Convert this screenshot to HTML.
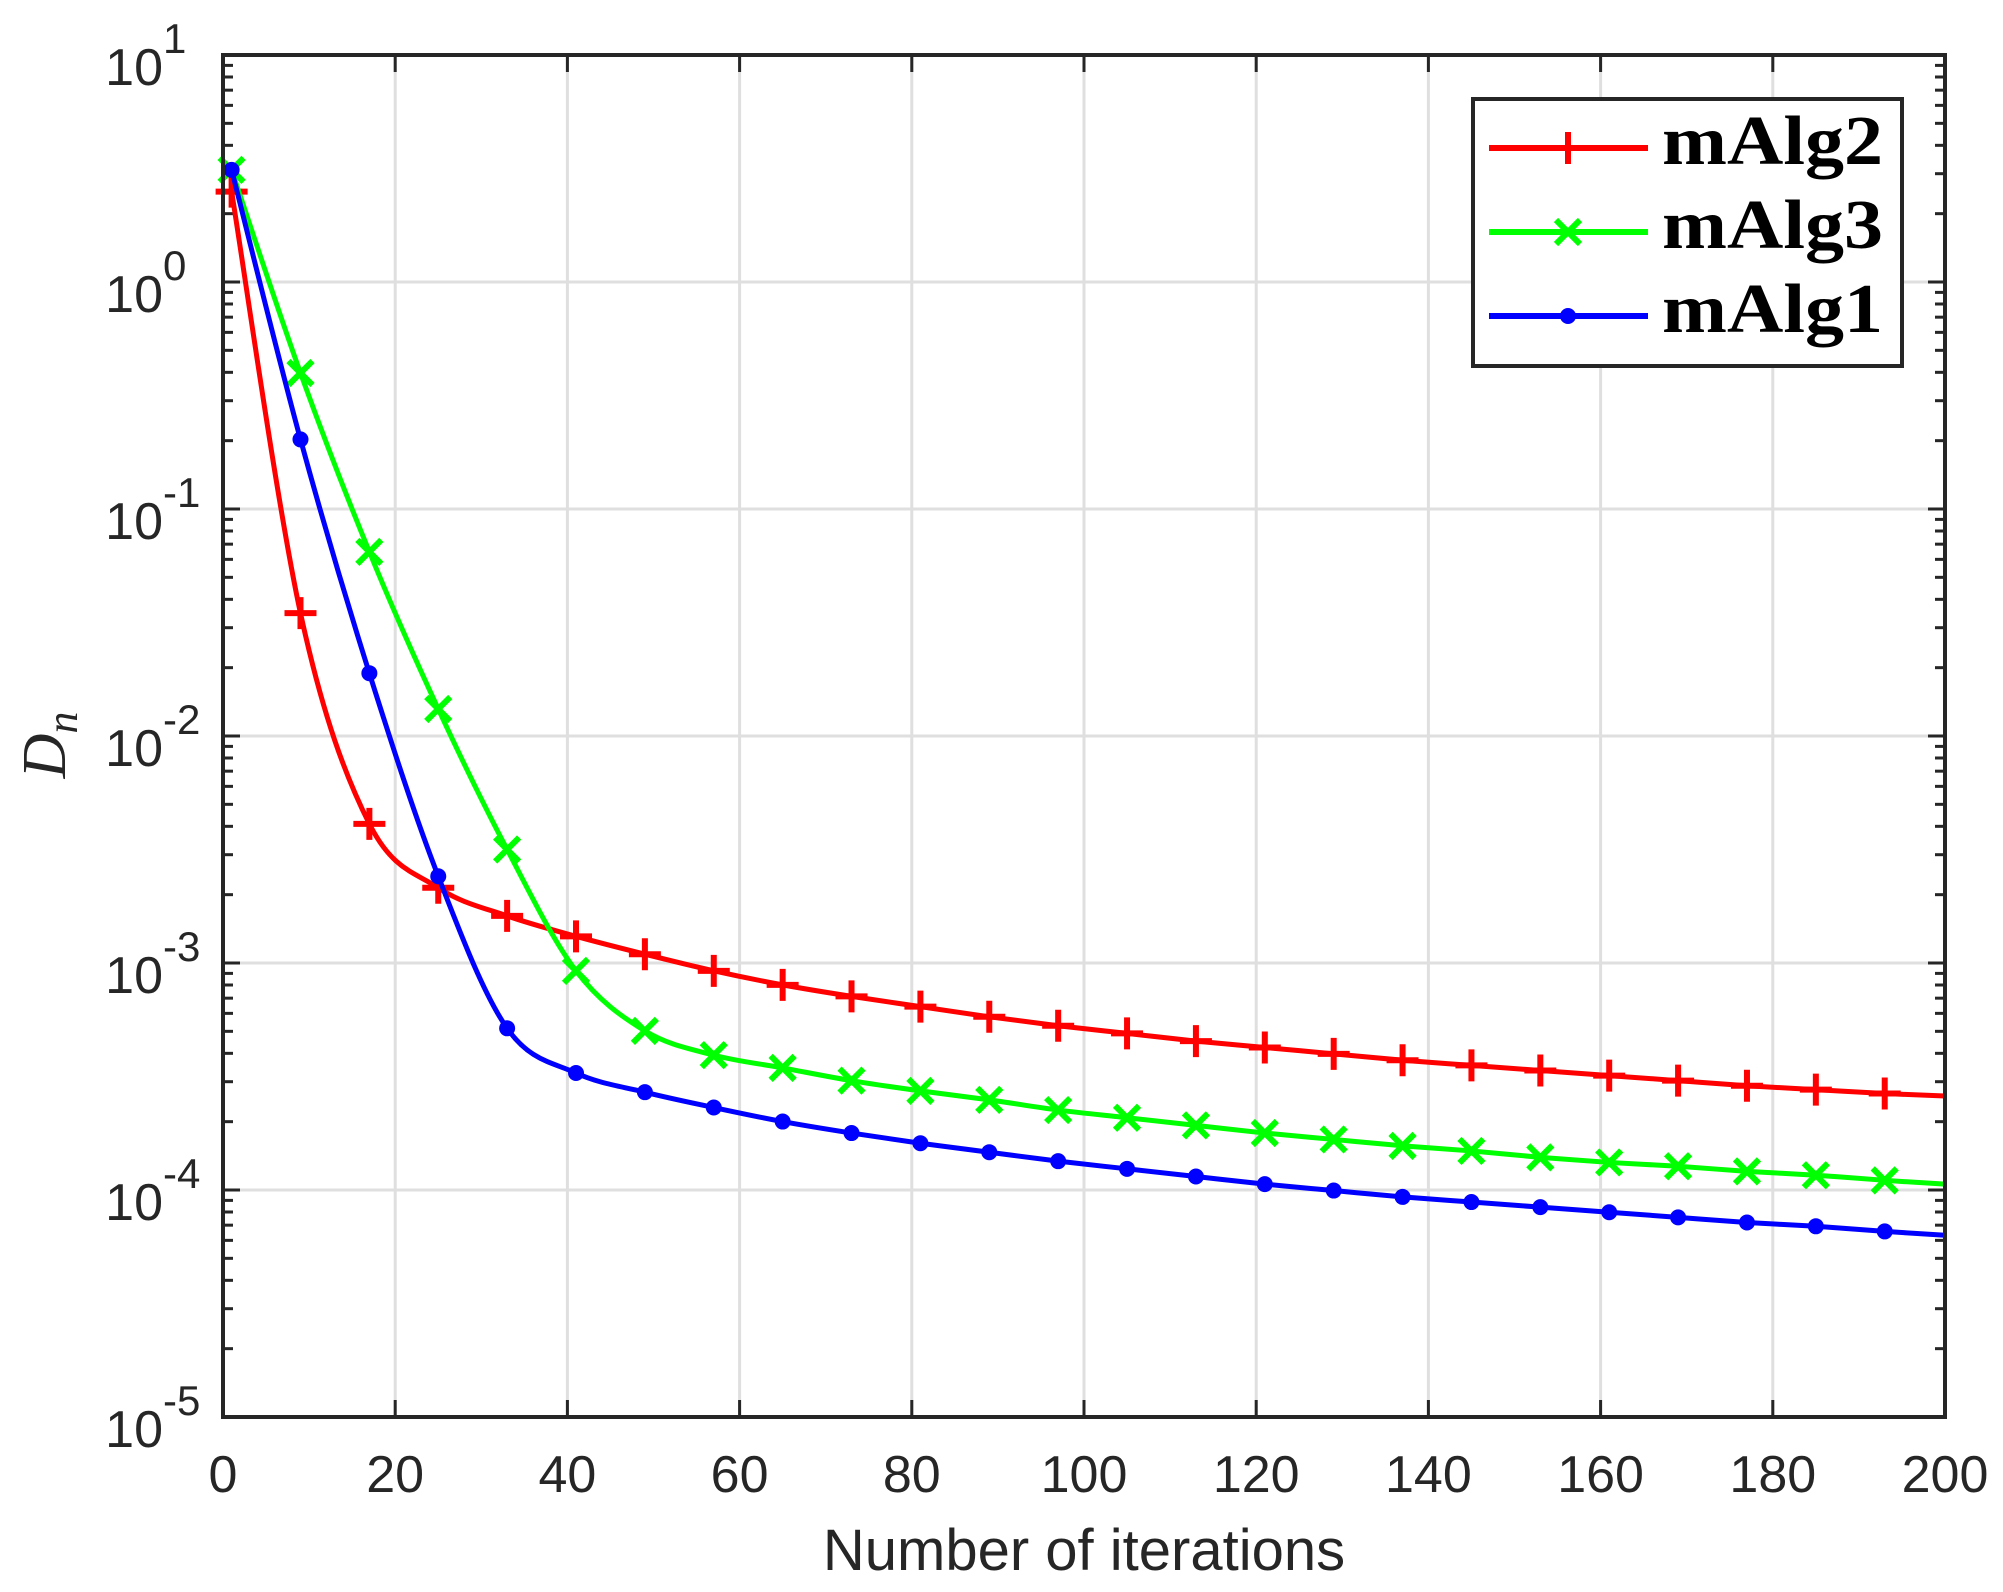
<!DOCTYPE html>
<html><head><meta charset="utf-8"><style>
html,body{margin:0;padding:0;background:#fff}
svg{display:block}
text{font-family:"Liberation Sans",sans-serif;fill:#262626}
</style></head><body>
<svg id="s" width="2003" height="1592" xmlns="http://www.w3.org/2000/svg"></svg>
<script>
const S=document.getElementById('s');
const L=223,R=1945,T=55,B=1417,DEC=(B-T)/6;
const X=n=>L+(R-L)*n/200;
const Yl=lg=>T+(1-lg)*DEC;
let h='';
// grid
for(let i=1;i<10;i++){h+=`<line x1="${X(i*20)}" y1="${T}" x2="${X(i*20)}" y2="${B}" stroke="#dfdfdf" stroke-width="3"/>`;}
for(let d=0;d<6;d++){h+=`<line x1="${L}" y1="${Yl(d-4)}" x2="${R}" y2="${Yl(d-4)}" stroke="#dfdfdf" stroke-width="3"/>`;}
// ticks
for(let i=0;i<=10;i++){const x=X(i*20);h+=`<line x1="${x}" y1="${B}" x2="${x}" y2="${B-17}" stroke="#262626" stroke-width="3"/><line x1="${x}" y1="${T}" x2="${x}" y2="${T+17}" stroke="#262626" stroke-width="3"/>`;
h+=`<text x="${x}" y="1492" font-size="52" text-anchor="middle">${i*20}</text>`;}
for(let d=-5;d<=1;d++){
 const y=Yl(d);
 h+=`<line x1="${L}" y1="${y}" x2="${L+17}" y2="${y}" stroke="#262626" stroke-width="3"/><line x1="${R}" y1="${y}" x2="${R-17}" y2="${y}" stroke="#262626" stroke-width="3"/>`;
 h+=`<text x="163" y="${y+30}" font-size="52" text-anchor="end">10</text><text x="163" y="${y-2}" font-size="42">${d}</text>`;
 if(d<1)for(let m=2;m<10;m++){const ym=Yl(d+Math.log10(m));h+=`<line x1="${L}" y1="${ym}" x2="${L+10}" y2="${ym}" stroke="#262626" stroke-width="3"/><line x1="${R}" y1="${ym}" x2="${R-10}" y2="${ym}" stroke="#262626" stroke-width="3"/>`;}
}
h+=`<text x="1084" y="1570" font-size="58" text-anchor="middle">Number of iterations</text>`;
h+=`<text transform="translate(65,745) rotate(-90)" font-family="Liberation Serif" font-style="italic" font-size="62" text-anchor="middle" style="font-family:'Liberation Serif',serif">D<tspan font-size="44" dy="12">n</tspan></text>`;
// data (display coords -> orig)
const k=1.2774;
const ns=[1,9,17,25,33,41,49,57,65,73,81,89,97,105,113,121,129,137,145,153,161,169,177,185,193,200];
const red=[150,480,645,695,717,733,747,760,771,780,788,796,803,809,815,820,825,830,834,838,842,846,850,853,856,858];
const grn=[133,292,432,555,665,760,807,826,836,846,854,861,869,875,881,887,892,897,901,906,910,913,917,920,924,927];
const blu=[133,344,527,686,805,840,855,867,878,887,895,902,909,915,921,927,932,937,941,945,949,953,957,960,964,967];
function path(ys){
 const P=ns.map((n,i)=>[X(n),ys[i]*k]);
 let d=`M${P[0][0]},${P[0][1]}`;
 for(let i=0;i<P.length-1;i++){
  const p0=P[Math.max(0,i-1)],p1=P[i],p2=P[i+1],p3=P[Math.min(P.length-1,i+2)];
  const t=0.5/3;
  const c1=[p1[0]+(p2[0]-p0[0])*t,p1[1]+(p2[1]-p0[1])*t];
  const c2=[p2[0]-(p3[0]-p1[0])*t,p2[1]-(p3[1]-p1[1])*t];
  d+=` C${c1[0]},${c1[1]} ${c2[0]},${c2[1]} ${p2[0]},${p2[1]}`;
 }
 return {d,P};
}
function mk(type,x,y,c){
 if(type=='+')return `<path d="M${x-16},${y}H${x+16}M${x},${y-16}V${y+16}" stroke="${c}" stroke-width="6" fill="none"/>`;
 if(type=='x')return `<path d="M${x-12},${y-12}L${x+12},${y+12}M${x+12},${y-12}L${x-12},${y+12}" stroke="${c}" stroke-width="6" fill="none"/>`;
 return `<circle cx="${x}" cy="${y}" r="8" fill="${c}"/>`;
}
const ser=[[red,'#ff0000','+'],[grn,'#00ff00','x'],[blu,'#0000ff','o']];
for(const [ys,c,t] of ser){
 const {d,P}=path(ys);
 h+=`<path d="${d}" stroke="${c}" stroke-width="5" fill="none"/>`;
 P.slice(0,-1).forEach(p=>h+=mk(t,p[0],p[1],c));
}
// axes box
h+=`<rect x="${L}" y="${T}" width="${R-L}" height="${B-T}" fill="none" stroke="#262626" stroke-width="4"/>`;
// legend
h+=`<rect x="1473" y="99" width="429" height="267" fill="#fff" stroke="#262626" stroke-width="4"/>`;
const lg=[['mAlg2','#ff0000','+',148],['mAlg3','#00ff00','x',232],['mAlg1','#0000ff','o',316]];
for(const [nm,c,t,y] of lg){
 h+=`<line x1="1489" y1="${y}" x2="1648" y2="${y}" stroke="${c}" stroke-width="6"/>`+mk(t,1568,y,c);
 h+=`<text x="1662" y="${y+16}" font-size="70" font-weight="bold" textLength="221" lengthAdjust="spacingAndGlyphs" style="font-family:'Liberation Serif',serif;fill:#000">${nm}</text>`;
}
S.innerHTML=h;
</script>
</body></html>
